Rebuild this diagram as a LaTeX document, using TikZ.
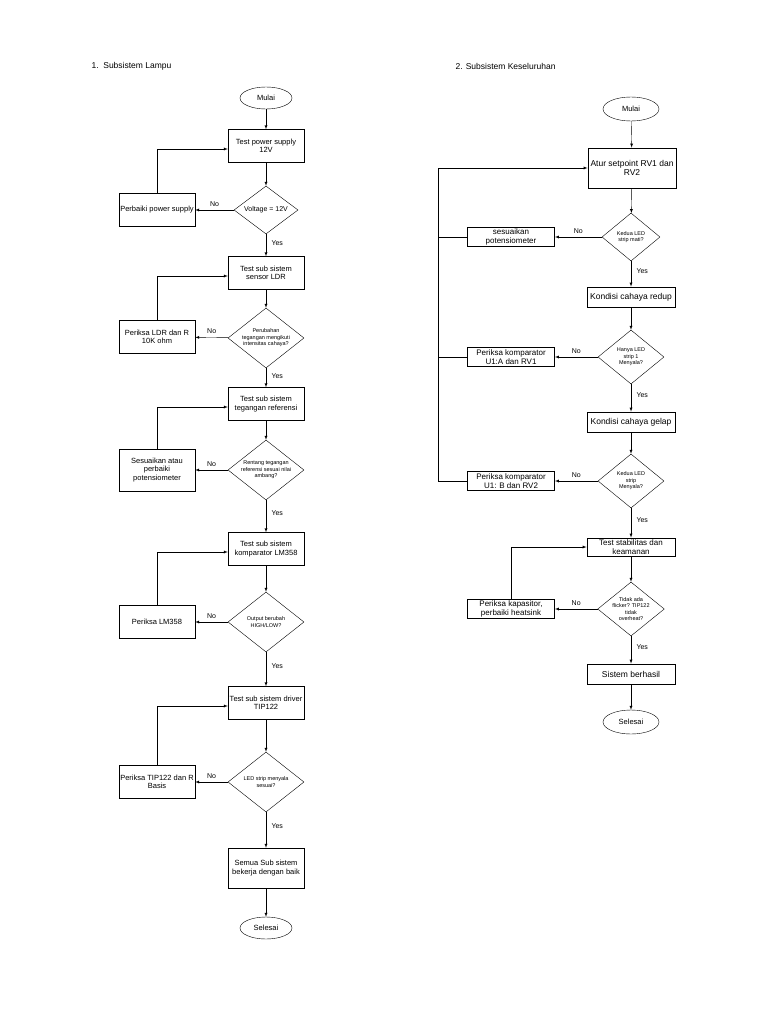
\documentclass[tikz,border=0pt]{standalone}
\usepackage{fontspec}
\setmainfont{Liberation Sans}
\usetikzlibrary{positioning,calc,shapes.geometric}

\tikzset{
  proc/.style={draw=black,fill=white,minimum width=76pt,minimum height=33pt,align=center,font=\fontsize{7.5}{8.5}\selectfont,inner sep=1pt},
  procr/.style={proc,minimum width=88pt,minimum height=20pt,thick,font=\fontsize{8.5}{9.5}\selectfont},
  fixr/.style={procr,minimum width=87pt,minimum height=19pt,font=\fontsize{8}{8.5}\selectfont},
  dec/.style={draw=black,diamond,aspect=1.25,minimum width=76pt,minimum height=60pt,inner sep=0pt,align=center,font=\fontsize{5.5}{6.5}\selectfont},
  term/.style={draw=black,ellipse,minimum width=52pt,minimum height=22pt,font=\fontsize{7.5}{8.5}\selectfont,inner sep=0pt},
  lbl/.style={font=\fontsize{7}{8}\selectfont},
  flow/.style={-latex,black},
}

\begin{document}
\begin{tikzpicture}[x=1pt,y=-1pt]
		\useasboundingbox (0,0) rectangle (768,1024);
		\node[anchor=west,font=\fontsize{8.5}{10}\selectfont] (t1) at (88,66) {1.\ \ Subsistem Lampu};
		\node[anchor=west,font=\fontsize{8.5}{10}\selectfont] (t2) at (452,66) {2. Subsistem Keseluruhan};

		% kolom kiri
		\node[term] (mulaiA) at (266,98) {Mulai};
		\node[proc] (pA1) at (266,146) {Test power supply\\12V};
		\node[dec,minimum width=64pt,minimum height=48pt,font=\fontsize{7}{8}\selectfont] (dA1) at (266,210) {Voltage = 12V};
		\node[proc] (fA1) at (157,210) {Perbaiki power supply};
		\node[proc] (pA2) at (266,273) {Test sub sistem\\sensor LDR};
		\node[dec] (dA2) at (266,338) {Perubahan\\tegangan mengikuti\\intensitas cahaya?};
		\node[proc] (fA2) at (157,337) {Periksa LDR dan R\\10K ohm};
		\node[proc] (pA3) at (266,404) {Test sub sistem\\tegangan referensi};
		\node[dec] (dA3) at (266,470) {Rentang tegangan\\referensi sesuai nilai\\ambang?};
		\node[proc,minimum height=42pt] (fA3) at (157,470) {Sesuaikan atau\\perbaiki\\potensiometer};
		\node[proc] (pA4) at (266,549) {Test sub sistem\\komparator LM358};
		\node[dec] (dA4) at (266,622) {Output berubah\\HIGH/LOW?};
		\node[proc] (fA4) at (157,622) {Periksa LM358};
		\node[proc] (pA5) at (266,703) {Test sub sistem driver\\TIP122};
		\node[dec] (dA5) at (266,782) {LED strip menyala\\sesuai?};
		\node[proc] (fA5) at (157,782) {Periksa TIP122 dan R\\Basis};
		\node[proc,minimum height=40pt] (pA6) at (266,868) {Semua Sub sistem\\bekerja dengan baik};
		\node[term] (endA) at (266,928) {Selesai};

		\draw[flow] (mulaiA) -- (pA1);
		\foreach \i/\k in {1/2,2/3,3/4,4/5,5/6} {
			\draw[flow] (pA\i) -- (dA\i);
			\draw[flow] (dA\i) -- node[lbl,right=2pt,pos=0.4] {Yes} (pA\k);
			\draw[flow] (dA\i) -- node[lbl,above] {No} (fA\i);
			\draw[flow] (fA\i.north) |- ($(pA\i.west)+(0,3)$);
		}
		\draw[flow] (pA6) -- (endA);

		% kolom kanan
		\node[term,minimum width=56pt,minimum height=24pt] (mulaiB) at (631,109) {Mulai};
		\node[procr,minimum height=40pt] (pB1) at (632,168) {Atur setpoint RV1 dan\\RV2};
		\node[dec,minimum width=58pt,minimum height=48pt] (dB1) at (631,237) {Kedua LED\\strip mati?};
		\node[fixr] (fB1) at (511,237) {sesuaikan\\potensiometer};
		\node[procr] (pB2) at (631,297) {Kondisi cahaya redup};
		\node[dec,minimum width=66pt,minimum height=54pt] (dB2) at (631,357) {Hanya LED\\strip 1\\Menyala?};
		\node[fixr] (fB2) at (511,357) {Periksa komparator\\U1:A dan RV1};
		\node[procr] (pB3) at (631,422) {Kondisi cahaya gelap};
		\node[dec,minimum width=66pt,minimum height=54pt] (dB3) at (631,481) {Kedua LED\\strip\\Menyala?};
		\node[fixr] (fB3) at (511,481) {Periksa komparator\\U1: B dan RV2};
		\node[procr,minimum height=18pt,font=\fontsize{8}{8.5}\selectfont] (pB4) at (631,547) {Test stabilitas dan\\keamanan};
		\node[dec,minimum width=66pt,minimum height=54pt] (dB4) at (631,609) {Tidak ada\\flicker? TIP122\\tidak\\overheat?};
		\node[fixr] (fB4) at (511,609) {Periksa kapasitor,\\perbaiki heatsink};
		\node[procr] (pB5) at (631,674) {Sistem berhasil};
		\node[term,minimum width=56pt,minimum height=24pt] (endB) at (631,722) {Selesai};
		\coordinate (back) at (438,168);

		\draw[flow] (mulaiB) -- (pB1);
		\foreach \i/\k in {1/2,2/3,3/4,4/5} {
			\draw[flow] (pB\i) -- (dB\i);
			\draw[flow] (dB\i) -- node[lbl,right=2pt,pos=0.4] {Yes} (pB\k);
			\draw[flow] (dB\i) -- node[lbl,above] {No} (fB\i);
		}
		\draw[flow] (pB5) -- (endB);
		\foreach \i in {1,2} \draw (fB\i.west) -- (fB\i.west -| back);
		\draw[flow] (fB3.west) -| (back) -- (pB1.west);
		\draw[flow] (fB4.north) |- (pB4.west);
	\end{tikzpicture}
\end{document}
